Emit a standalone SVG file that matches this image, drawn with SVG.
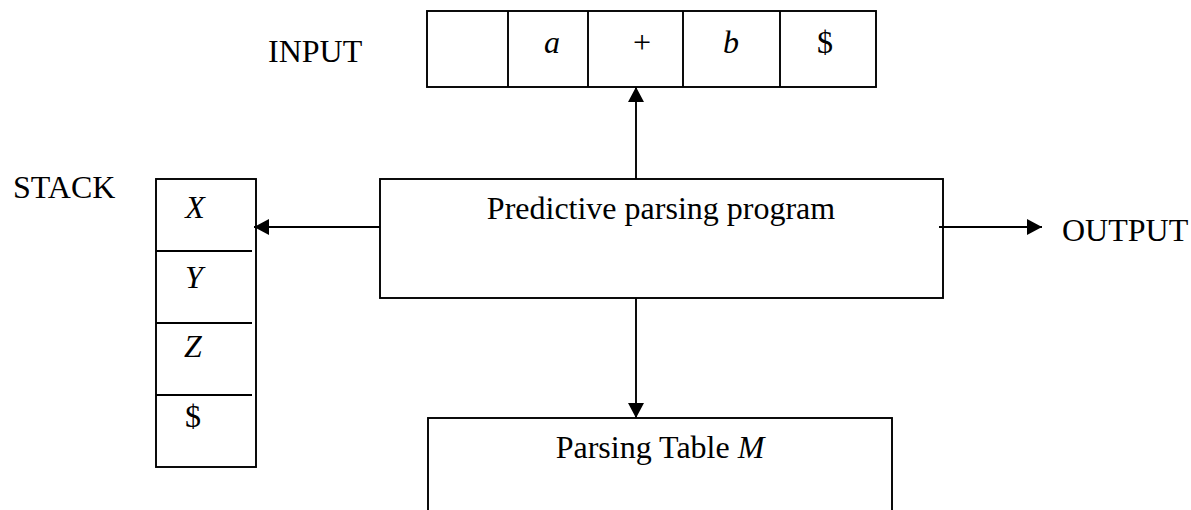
<svg xmlns="http://www.w3.org/2000/svg" width="1191" height="510" viewBox="0 0 1191 510">
<style>
.box{fill:none;stroke:#000;stroke-width:1.9}
.ln{fill:none;stroke:#000;stroke-width:1.9}
.t{font-family:"Liberation Serif","Times New Roman",serif;font-size:32px;fill:#000}
.i{font-style:italic}
.c{text-anchor:middle}
</style>
<defs>
<marker id="ah" markerUnits="userSpaceOnUse" markerWidth="18" markerHeight="18" refX="15" refY="8" orient="auto">
<path d="M0,0 L15,8 L0,16 z" fill="#000"/>
</marker>
</defs>
<rect width="1191" height="510" fill="#fff"/>
<g id="input-label"><text class="t" x="268" y="62">INPUT</text></g>
<g id="input">
<rect class="box" x="427" y="11" width="449" height="76"/>
<line class="ln" x1="508" y1="11" x2="508" y2="87"/>
<line class="ln" x1="588" y1="11" x2="588" y2="87"/>
<line class="ln" x1="683" y1="11" x2="683" y2="87"/>
<line class="ln" x1="780" y1="11" x2="780" y2="87"/>
<text class="t i c" x="552" y="53">a</text>
<text class="t c" x="642" y="53">+</text>
<text class="t i c" x="731" y="53">b</text>
<text class="t c" x="825" y="53">$</text>
</g>
<g id="stack-label"><text class="t" x="13" y="198">STACK</text></g>
<g id="stack">
<rect class="box" x="156" y="179" width="100" height="288"/>
<line class="ln" x1="156" y1="251" x2="252" y2="251"/>
<line class="ln" x1="156" y1="323" x2="252" y2="323"/>
<line class="ln" x1="156" y1="395" x2="252" y2="395"/>
<text class="t i c" x="195" y="218">X</text>
<text class="t i c" x="194" y="288">Y</text>
<text class="t i c" x="193" y="357">Z</text>
<text class="t c" x="193" y="427">$</text>
</g>
<g id="program">
<rect class="box" x="380" y="179" width="563" height="119"/>
<text class="t c" x="661" y="219">Predictive parsing program</text>
</g>
<g id="table">
<rect class="box" x="428" y="418" width="464" height="110"/>
<text class="t c" x="660" y="458">Parsing Table <tspan class="i">M</tspan></text>
</g>
<g id="output-label"><text class="t" x="1062" y="241">OUTPUT</text></g>
<g id="connectors">
<line class="ln" x1="636" y1="179" x2="636" y2="87" marker-end="url(#ah)"/>
<line class="ln" x1="380" y1="227" x2="254" y2="227" marker-end="url(#ah)"/>
<line class="ln" x1="939" y1="227" x2="1042" y2="227" marker-end="url(#ah)"/>
<line class="ln" x1="636" y1="298" x2="636" y2="418" marker-end="url(#ah)"/>
</g>
</svg>
